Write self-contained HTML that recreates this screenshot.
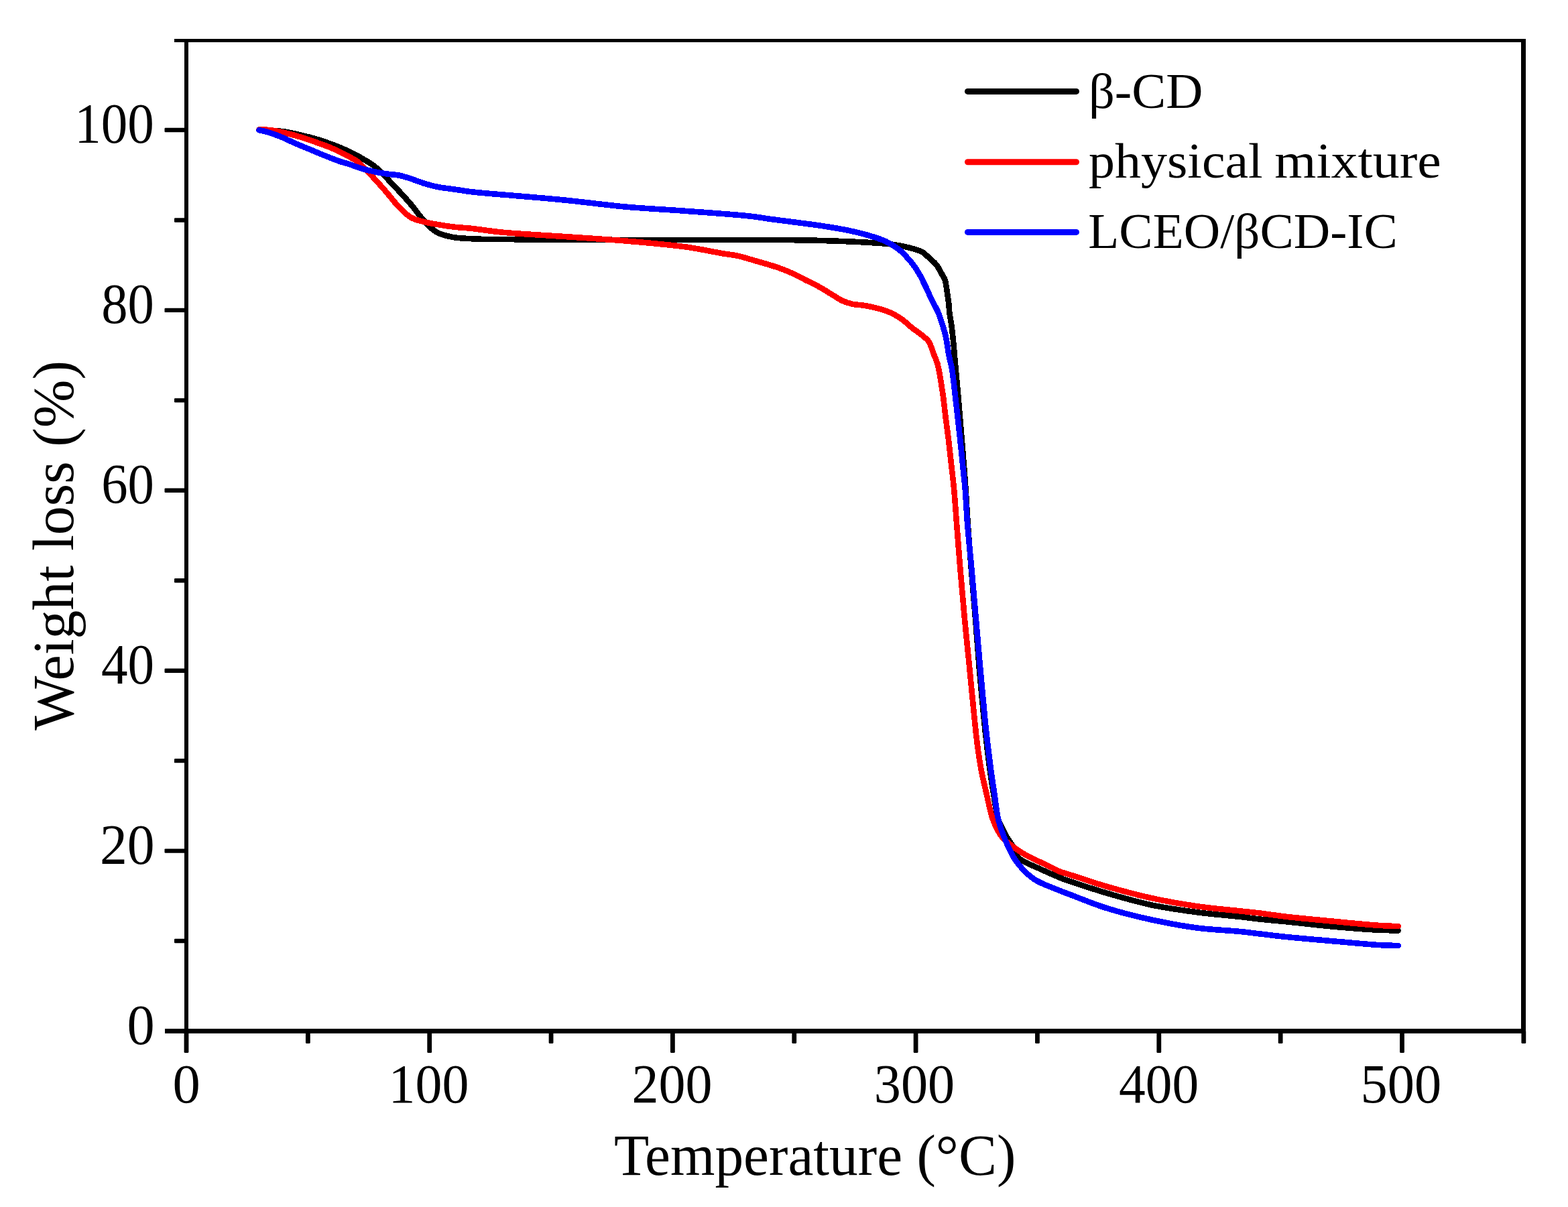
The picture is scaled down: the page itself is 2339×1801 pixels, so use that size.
<!DOCTYPE html>
<html><head><meta charset="utf-8"><style>
html,body{margin:0;padding:0;background:#fff;}
svg{display:block;}
</style></head><body>
<svg width="2339" height="1801" viewBox="0 0 2339 1801">
<rect width="2339" height="1801" fill="#fff"/>
<rect x="275" y="58" width="6" height="1484" fill="#000"/>
<rect x="2269" y="58" width="7" height="1484" fill="#000"/>
<rect x="260" y="58" width="2016" height="5" fill="#000"/>
<rect x="246" y="1535" width="2030" height="7" fill="#000"/>
<rect x="260.0" y="1400.85" width="18.0" height="6.4" rx="1.2" fill="#000"/>
<rect x="245.5" y="1266.40" width="32.5" height="6.4" rx="1.2" fill="#000"/>
<rect x="260.0" y="1131.95" width="18.0" height="6.4" rx="1.2" fill="#000"/>
<rect x="245.5" y="997.50" width="32.5" height="6.4" rx="1.2" fill="#000"/>
<rect x="260.0" y="863.05" width="18.0" height="6.4" rx="1.2" fill="#000"/>
<rect x="245.5" y="728.60" width="32.5" height="6.4" rx="1.2" fill="#000"/>
<rect x="260.0" y="594.15" width="18.0" height="6.4" rx="1.2" fill="#000"/>
<rect x="245.5" y="459.70" width="32.5" height="6.4" rx="1.2" fill="#000"/>
<rect x="260.0" y="325.25" width="18.0" height="6.4" rx="1.2" fill="#000"/>
<rect x="245.5" y="190.80" width="32.5" height="6.4" rx="1.2" fill="#000"/>
<rect x="274.60" y="1538" width="6.8" height="33.0" rx="1.5" fill="#000"/>
<rect x="455.95" y="1538" width="6.8" height="19.0" rx="1.5" fill="#000"/>
<rect x="637.30" y="1538" width="6.8" height="33.0" rx="1.5" fill="#000"/>
<rect x="818.65" y="1538" width="6.8" height="19.0" rx="1.5" fill="#000"/>
<rect x="1000.00" y="1538" width="6.8" height="33.0" rx="1.5" fill="#000"/>
<rect x="1181.35" y="1538" width="6.8" height="19.0" rx="1.5" fill="#000"/>
<rect x="1362.70" y="1538" width="6.8" height="33.0" rx="1.5" fill="#000"/>
<rect x="1544.05" y="1538" width="6.8" height="19.0" rx="1.5" fill="#000"/>
<rect x="1725.40" y="1538" width="6.8" height="33.0" rx="1.5" fill="#000"/>
<rect x="1906.75" y="1538" width="6.8" height="19.0" rx="1.5" fill="#000"/>
<rect x="2088.10" y="1538" width="6.8" height="33.0" rx="1.5" fill="#000"/>
<rect x="2269.45" y="1538" width="6.8" height="19.0" rx="1.5" fill="#000"/>
<g shape-rendering="crispEdges">
<path d="M386.5 194.3 C386.5 194.3 395.6 194.4 400.0 194.6 C404.1 194.7 407.8 194.9 412.0 195.2 C416.6 195.6 421.0 195.9 426.3 196.7 C432.9 197.8 441.0 199.8 448.3 201.5 C455.6 203.2 462.9 204.9 470.2 207.0 C477.6 209.1 484.9 211.6 492.2 214.3 C499.6 217.0 507.3 220.0 514.2 223.1 C520.6 225.9 528.0 229.5 532.5 231.9 C535.3 233.4 536.3 234.1 539.0 235.7 C543.7 238.5 552.3 243.2 558.0 247.6 C563.3 251.7 567.6 256.2 572.3 260.9 C577.1 265.7 581.8 271.0 586.6 276.1 C591.4 281.2 596.2 286.1 600.9 291.3 C605.7 296.6 610.9 302.4 615.1 307.5 C618.7 311.8 621.4 315.9 624.6 319.9 C627.7 323.8 630.9 327.7 634.2 331.3 C637.3 334.7 640.4 338.0 643.7 340.8 C646.8 343.4 649.6 345.7 653.2 347.5 C657.3 349.6 662.9 351.0 667.5 352.2 C671.8 353.3 674.7 353.9 680.0 354.6 C689.2 355.7 704.7 356.4 718.0 356.8 C732.5 357.3 745.7 357.1 763.8 357.2 C790.0 357.4 823.6 357.6 859.9 357.7 C907.5 357.9 973.5 357.9 1024.7 357.9 C1069.3 357.9 1114.5 357.7 1150.0 357.9 C1176.3 358.1 1195.8 358.2 1218.7 358.8 C1241.6 359.4 1268.7 360.4 1287.4 361.4 C1300.3 362.1 1311.2 362.7 1320.0 363.5 C1325.9 364.0 1329.5 364.4 1334.9 365.3 C1341.4 366.3 1349.4 367.8 1356.3 369.6 C1363.0 371.4 1370.4 373.1 1375.6 376.0 C1379.9 378.4 1382.5 381.7 1386.0 384.8 C1389.7 388.1 1394.0 391.5 1397.0 395.3 C1399.8 398.8 1401.4 402.7 1403.5 406.5 C1405.6 410.2 1408.5 414.1 1409.8 417.8 C1410.9 420.9 1411.0 423.9 1411.5 427.0 C1412.0 430.3 1412.4 433.2 1413.0 437.0 C1413.7 442.1 1414.9 449.8 1415.5 455.0 C1415.9 459.0 1415.8 461.7 1416.3 465.7 C1416.9 470.9 1418.3 477.6 1419.1 483.5 C1419.9 489.4 1420.6 495.4 1421.2 501.3 C1421.9 507.3 1422.5 514.0 1423.0 519.2 C1423.4 523.2 1423.4 525.8 1423.8 530.0 C1424.3 535.9 1425.1 543.3 1425.8 551.3 C1426.8 561.7 1428.0 575.1 1429.0 587.0 C1430.0 598.9 1431.0 610.8 1432.0 622.7 C1433.0 634.6 1434.0 646.4 1435.0 658.3 C1436.0 670.2 1437.0 682.1 1437.9 694.0 C1438.8 705.9 1439.7 716.8 1440.6 729.7 C1441.6 745.0 1442.4 761.8 1443.6 780.0 C1445.1 801.7 1447.1 827.5 1449.0 851.3 C1450.9 875.1 1453.1 898.9 1455.0 922.7 C1456.9 946.5 1458.4 969.1 1460.5 994.0 C1462.8 1021.3 1466.2 1057.5 1468.5 1080.0 C1470.0 1094.5 1471.1 1103.8 1472.5 1115.7 C1473.9 1127.6 1475.3 1139.4 1477.0 1151.3 C1478.7 1163.2 1480.5 1175.1 1482.5 1187.0 C1484.5 1198.9 1486.1 1213.4 1489.0 1222.7 C1491.0 1229.0 1493.7 1233.4 1496.0 1238.0 C1498.0 1242.0 1499.8 1245.4 1502.0 1249.0 C1504.2 1252.7 1506.6 1255.6 1509.1 1259.9 C1512.4 1265.6 1515.0 1275.2 1519.9 1280.3 C1524.4 1284.9 1531.0 1287.0 1536.6 1289.9 C1542.1 1292.7 1547.7 1294.8 1553.2 1297.3 C1558.7 1299.8 1564.0 1302.3 1569.8 1304.8 C1576.2 1307.6 1584.4 1311.1 1590.0 1313.1 C1593.9 1314.5 1595.4 1314.8 1600.0 1316.3 C1610.1 1319.6 1631.0 1326.8 1648.7 1332.0 C1669.6 1338.1 1694.4 1345.4 1717.4 1350.3 C1740.2 1355.1 1763.5 1358.3 1786.0 1361.3 C1807.7 1364.2 1832.7 1366.1 1850.0 1368.0 C1861.9 1369.3 1869.4 1370.5 1880.0 1371.6 C1892.1 1372.9 1904.0 1373.8 1918.7 1375.3 C1938.3 1377.3 1964.5 1380.4 1987.4 1382.5 C2010.3 1384.6 2037.9 1386.8 2056.0 1387.7 C2067.9 1388.3 2085.6 1388.4 2085.6 1388.4" fill="none" stroke="#000" stroke-width="8.6" stroke-linecap="round" stroke-linejoin="round"/>
<path d="M386.5 193.5 C386.5 193.5 390.5 193.3 393.3 193.4 C397.9 193.6 405.9 194.5 411.6 195.4 C416.8 196.2 420.9 197.2 426.3 198.5 C432.9 200.1 441.0 202.3 448.3 204.5 C455.6 206.7 462.9 209.3 470.2 211.9 C477.5 214.5 484.9 216.9 492.2 219.9 C499.6 223.0 509.2 227.7 514.2 230.2 C516.8 231.5 517.7 232.0 520.0 233.3 C523.7 235.4 529.7 238.3 534.3 241.9 C539.3 245.8 543.8 251.2 548.5 256.1 C553.3 261.0 558.1 266.1 562.8 271.3 C567.6 276.6 572.4 282.0 577.1 287.5 C581.9 293.1 586.4 299.3 591.3 304.6 C595.9 309.7 601.2 315.2 605.6 318.9 C609.0 321.7 611.5 323.8 615.1 325.6 C619.2 327.7 624.0 328.9 629.4 330.3 C636.3 332.1 645.0 333.7 653.2 335.1 C661.8 336.6 671.7 338.0 680.0 338.9 C687.1 339.7 691.6 339.7 699.7 340.5 C712.6 341.8 730.7 344.8 750.0 346.7 C776.0 349.2 811.1 350.9 841.6 353.0 C872.1 355.1 902.7 356.9 933.2 359.5 C963.7 362.1 998.1 365.0 1024.7 368.7 C1045.5 371.6 1066.1 376.3 1080.0 378.6 C1088.3 380.0 1092.8 380.1 1100.1 381.7 C1109.2 383.7 1120.3 387.3 1130.4 390.2 C1140.5 393.1 1151.6 396.2 1160.6 399.3 C1168.0 401.9 1174.1 404.3 1180.7 407.3 C1187.5 410.3 1194.2 414.0 1200.9 417.4 C1207.6 420.8 1214.4 423.8 1221.0 427.5 C1227.8 431.2 1235.0 435.9 1241.2 439.6 C1246.6 442.8 1251.1 446.2 1256.3 448.6 C1261.2 450.9 1265.9 452.4 1271.4 453.7 C1277.7 455.1 1284.5 454.8 1292.1 456.3 C1301.7 458.2 1314.8 461.0 1324.2 464.8 C1332.3 468.0 1339.4 472.3 1345.6 476.6 C1351.1 480.4 1355.4 485.2 1360.0 488.8 C1364.1 492.0 1367.9 494.3 1371.9 497.5 C1376.2 501.0 1382.2 505.3 1385.0 509.0 C1386.9 511.5 1387.4 513.5 1388.5 516.2 C1389.9 519.6 1391.2 523.9 1392.7 528.0 C1394.4 532.6 1396.5 536.2 1398.3 542.4 C1401.3 553.1 1404.2 572.9 1406.3 587.0 C1408.2 599.5 1409.1 610.8 1410.6 622.7 C1412.1 634.6 1413.8 646.4 1415.2 658.3 C1416.6 670.2 1417.9 682.1 1419.2 694.0 C1420.5 705.9 1421.9 716.8 1423.1 729.7 C1424.5 745.0 1425.6 761.8 1427.0 780.0 C1428.7 801.7 1430.6 827.5 1432.6 851.3 C1434.6 875.1 1436.7 898.9 1438.9 922.7 C1441.1 946.5 1443.5 969.1 1446.0 994.0 C1448.7 1021.3 1452.0 1057.5 1454.4 1080.0 C1455.9 1094.5 1456.9 1103.8 1458.5 1115.7 C1460.1 1127.6 1461.9 1139.5 1464.2 1151.3 C1466.5 1163.2 1469.4 1175.1 1472.2 1187.0 C1475.0 1198.9 1477.0 1211.9 1481.1 1222.7 C1484.8 1232.5 1488.5 1241.4 1495.2 1249.4 C1502.6 1258.3 1514.1 1265.8 1524.8 1272.6 C1535.8 1279.6 1550.4 1285.5 1560.5 1290.5 C1568.0 1294.2 1573.4 1297.4 1580.0 1300.1 C1586.5 1302.7 1591.9 1303.9 1600.0 1306.5 C1612.7 1310.6 1631.0 1317.0 1648.7 1322.1 C1669.6 1328.2 1694.4 1335.0 1717.4 1340.0 C1740.2 1345.0 1763.5 1349.0 1786.0 1352.3 C1807.7 1355.4 1832.7 1357.5 1850.0 1359.4 C1861.9 1360.7 1869.4 1361.3 1880.0 1362.6 C1892.1 1364.1 1903.9 1366.1 1918.7 1367.8 C1938.3 1370.1 1964.5 1372.4 1987.4 1374.6 C2010.3 1376.8 2037.9 1379.6 2056.0 1380.8 C2067.9 1381.6 2085.6 1382.2 2085.6 1382.2" fill="none" stroke="#f00" stroke-width="8.6" stroke-linecap="round" stroke-linejoin="round"/>
<path d="M386.4 194.3 C386.4 194.3 392.9 195.4 397.0 196.5 C403.1 198.2 411.7 201.3 419.0 204.2 C426.4 207.2 433.6 210.9 440.9 214.1 C448.2 217.3 455.6 220.2 462.9 223.2 C470.2 226.3 477.5 229.5 484.9 232.4 C492.2 235.3 500.5 238.6 506.9 240.8 C511.8 242.5 515.2 243.2 520.0 244.7 C525.8 246.6 532.6 249.5 539.0 251.4 C545.3 253.3 551.6 254.7 558.0 256.1 C564.3 257.4 570.7 258.5 577.1 259.5 C583.4 260.4 589.8 260.5 596.1 261.8 C602.5 263.1 608.8 265.4 615.1 267.5 C621.5 269.6 627.8 272.3 634.2 274.2 C640.5 276.1 646.3 277.6 653.2 279.0 C661.3 280.6 671.8 281.6 680.0 282.8 C687.1 283.8 692.1 284.8 699.7 285.8 C710.0 287.1 727.0 288.6 736.3 289.4 C742.0 289.9 743.4 289.9 750.0 290.5 C767.0 291.9 811.1 295.5 841.6 298.5 C872.2 301.5 902.6 305.8 933.2 308.6 C963.7 311.3 994.2 312.7 1024.7 315.0 C1055.2 317.3 1093.3 319.8 1116.3 322.3 C1130.3 323.8 1138.2 325.4 1150.0 327.0 C1163.0 328.7 1177.5 330.5 1191.2 332.3 C1204.9 334.1 1218.7 335.8 1232.4 338.0 C1246.2 340.2 1261.3 342.8 1273.6 345.6 C1283.7 347.9 1292.6 350.2 1301.1 352.9 C1308.5 355.2 1315.2 357.3 1321.7 360.4 C1328.1 363.5 1334.7 367.5 1340.0 371.5 C1344.6 375.0 1348.1 378.7 1351.9 382.8 C1356.0 387.2 1360.3 392.2 1363.8 397.1 C1367.2 401.7 1370.1 406.7 1372.7 411.3 C1375.0 415.4 1376.9 419.8 1378.6 423.2 C1379.9 425.8 1380.7 427.2 1382.0 430.0 C1384.1 434.5 1387.1 441.9 1390.0 447.8 C1392.9 453.8 1396.7 459.6 1399.3 465.7 C1401.8 471.6 1403.6 477.5 1405.5 483.5 C1407.4 489.4 1409.2 495.3 1410.6 501.3 C1412.0 507.2 1412.9 514.0 1413.8 519.2 C1414.5 523.2 1414.6 525.8 1415.4 530.0 C1416.5 535.9 1418.7 543.3 1420.1 551.3 C1421.9 561.6 1423.1 575.1 1424.5 587.0 C1425.9 598.9 1427.3 610.8 1428.6 622.7 C1429.9 634.6 1431.3 646.4 1432.5 658.3 C1433.8 670.2 1434.9 682.1 1436.1 694.0 C1437.3 705.9 1438.6 716.8 1439.7 729.7 C1441.0 745.0 1441.6 761.8 1443.0 780.0 C1444.7 801.7 1447.5 827.5 1449.6 851.3 C1451.7 875.1 1453.7 898.9 1455.8 922.7 C1457.9 946.5 1459.8 969.1 1462.0 994.0 C1464.5 1021.3 1467.7 1057.5 1470.0 1080.0 C1471.5 1094.5 1472.6 1103.8 1474.0 1115.7 C1475.4 1127.6 1476.9 1139.4 1478.5 1151.3 C1480.1 1163.2 1482.0 1175.1 1483.8 1187.0 C1485.6 1198.9 1486.3 1210.9 1489.2 1222.7 C1492.2 1234.7 1496.9 1247.4 1501.7 1258.3 C1506.0 1268.0 1509.6 1276.6 1515.9 1285.1 C1522.9 1294.6 1532.4 1304.8 1542.7 1311.9 C1553.2 1319.1 1567.8 1323.5 1578.3 1327.9 C1586.4 1331.3 1591.3 1333.0 1600.0 1336.3 C1613.0 1341.2 1630.9 1348.8 1648.7 1354.4 C1669.5 1361.0 1694.4 1367.3 1717.4 1372.3 C1740.2 1377.3 1763.5 1381.6 1786.0 1384.6 C1807.6 1387.4 1832.7 1388.3 1850.0 1390.0 C1861.9 1391.2 1869.4 1392.3 1880.0 1393.5 C1892.1 1394.9 1904.0 1396.5 1918.7 1398.0 C1938.3 1400.0 1964.5 1402.2 1987.4 1404.2 C2010.3 1406.2 2037.9 1408.9 2056.0 1410.0 C2067.9 1410.7 2085.6 1411.0 2085.6 1411.0" fill="none" stroke="#00f" stroke-width="8.6" stroke-linecap="round" stroke-linejoin="round"/>
</g>
<text x="111.3" y="213.2" font-size="84" textLength="118.6" lengthAdjust="spacingAndGlyphs" font-family="'Liberation Serif', serif">100</text>
<text x="151.2" y="482.1" font-size="84" textLength="78.6" lengthAdjust="spacingAndGlyphs" font-family="'Liberation Serif', serif">80</text>
<text x="151.2" y="751.0" font-size="84" textLength="78.7" lengthAdjust="spacingAndGlyphs" font-family="'Liberation Serif', serif">60</text>
<text x="150.9" y="1019.9" font-size="84" textLength="79.1" lengthAdjust="spacingAndGlyphs" font-family="'Liberation Serif', serif">40</text>
<text x="148.9" y="1288.8" font-size="84" textLength="81.7" lengthAdjust="spacingAndGlyphs" font-family="'Liberation Serif', serif">20</text>
<text x="189.5" y="1557.7" font-size="84" textLength="41.2" lengthAdjust="spacingAndGlyphs" font-family="'Liberation Serif', serif">0</text>
<text x="257.6" y="1644.5" font-size="83" textLength="41.3" lengthAdjust="spacingAndGlyphs" font-family="'Liberation Serif', serif">0</text>
<text x="579.5" y="1644.5" font-size="83" textLength="119.9" lengthAdjust="spacingAndGlyphs" font-family="'Liberation Serif', serif">100</text>
<text x="942.6" y="1644.5" font-size="83" textLength="120.0" lengthAdjust="spacingAndGlyphs" font-family="'Liberation Serif', serif">200</text>
<text x="1303.8" y="1644.5" font-size="83" textLength="120.4" lengthAdjust="spacingAndGlyphs" font-family="'Liberation Serif', serif">300</text>
<text x="1669.0" y="1644.5" font-size="83" textLength="119.1" lengthAdjust="spacingAndGlyphs" font-family="'Liberation Serif', serif">400</text>
<text x="2029.6" y="1644.5" font-size="83" textLength="120.7" lengthAdjust="spacingAndGlyphs" font-family="'Liberation Serif', serif">500</text>
<text x="915.9" y="1752.8" font-size="87" textLength="599.5" lengthAdjust="spacingAndGlyphs" font-family="'Liberation Serif', serif">Temperature (°C)</text>
<text transform="translate(108.5,1089.7) rotate(-90)" x="0" y="0" font-size="86" textLength="551.8" lengthAdjust="spacingAndGlyphs" font-family="'Liberation Serif', serif">Weight loss (%)</text>
<line x1="1443.5" y1="136.4" x2="1605.5" y2="136.4" stroke="#000" stroke-width="9" stroke-linecap="round"/>
<line x1="1443.5" y1="241.7" x2="1605.5" y2="241.7" stroke="#f00" stroke-width="9" stroke-linecap="round"/>
<line x1="1443.5" y1="346.4" x2="1605.5" y2="346.4" stroke="#00f" stroke-width="9" stroke-linecap="round"/>
<text x="1623.9" y="161.0" font-size="75" textLength="170.4" lengthAdjust="spacingAndGlyphs" font-family="'Liberation Serif', serif">β-CD</text>
<text x="1624.1" y="265.0" font-size="75" textLength="259.6" lengthAdjust="spacingAndGlyphs" font-family="'Liberation Serif', serif">physical</text>
<text x="1901.3" y="265.0" font-size="75" textLength="248.4" lengthAdjust="spacingAndGlyphs" font-family="'Liberation Serif', serif">mixture</text>
<text x="1623.3" y="370.0" font-size="75" textLength="461.4" lengthAdjust="spacingAndGlyphs" font-family="'Liberation Serif', serif">LCEO/βCD-IC</text>
</svg>
</body></html>
